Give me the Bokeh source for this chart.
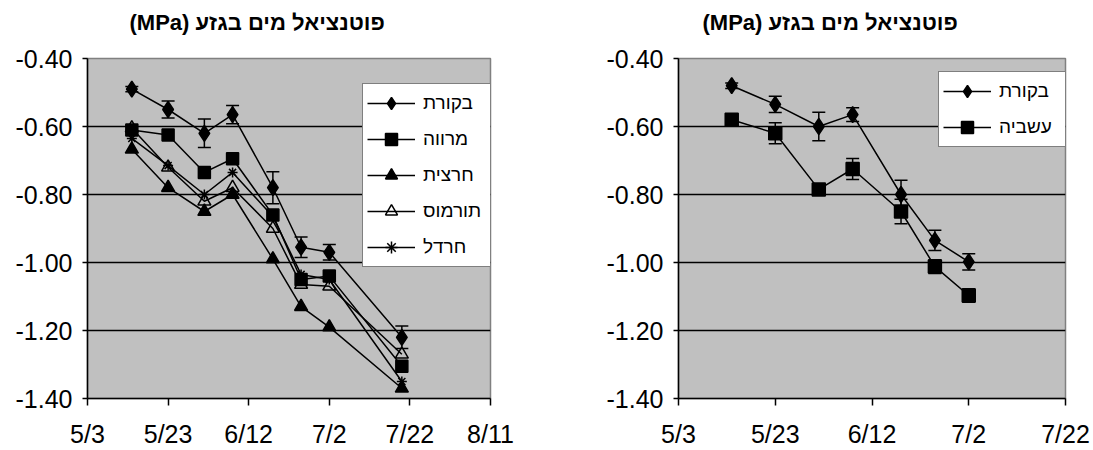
import pandas as pd
from bokeh.plotting import figure
from bokeh.layouts import row
from bokeh.models import (ColumnDataSource, Range1d, FixedTicker, NumeralTickFormatter,
                          Whisker, TeeHead, Legend, LegendItem, Title)
from bokeh.embed import file_html
from bokeh.resources import INLINE

# ---------------- data ----------------
origin = "2006-05-03"
dates = ["2006-05-14", "2006-05-23", "2006-06-01", "2006-06-08",
         "2006-06-18", "2006-06-25", "2006-07-02", "2006-07-20"]

left_names = ["בקורת", "מרווה", "חרצית", "תורמוס", "חרדל"]
left_control = [-0.49, -0.55, -0.62, -0.565, -0.78, -0.955, -0.97, -1.22]
left_control_err = [0.008, 0.025, 0.042, 0.027, 0.047, 0.03, 0.023, 0.033]
left_sage = [-0.61, -0.625, -0.735, -0.695, -0.86, -1.05, -1.04, -1.305]
left_chrys = [-0.667, -0.78, -0.85, -0.80, -0.99, -1.13, -1.19, -1.37]
left_lupin = [-0.605, -0.72, -0.82, -0.78, -0.90, -1.065, -1.07, -1.27]
left_mustard = [-0.635, -0.715, -0.80, -0.735, -0.865, -1.035, -1.05, -1.35]

right_names = ["בקורת", "עשביה"]
right_dates = dates[:7]
right_control = [-0.48, -0.535, -0.60, -0.565, -0.80, -0.935, -0.998]
right_control_err = [0.008, 0.024, 0.042, 0.02, 0.042, 0.03, 0.024]
right_weeds = [-0.58, -0.62, -0.785, -0.725, -0.85, -1.012, -1.097]
right_weeds_err = [0.01, 0.031, 0.016, 0.031, 0.036, 0.02, 0.02]

left_tick_dates = ["2006-05-03", "2006-05-23", "2006-06-12", "2006-07-02", "2006-07-22", "2006-08-11"]
left_tick_labels = ["5/3", "5/23", "6/12", "7/2", "7/22", "8/11"]
right_tick_dates = left_tick_dates[:5]
right_tick_labels = left_tick_labels[:5]
y_ticks = [-1.4, -1.2, -1.0, -0.8, -0.6, -0.4]
grid_values = [-1.2, -1.0, -0.8, -0.6]
title_text = "\u202bפוטנציאל מים בגזע (MPa)\u202c"

# ---------------- helpers ----------------
t0 = pd.Timestamp(origin)


def days(ds):
    return [(pd.Timestamp(d) - t0).days for d in ds]


FONT = "Liberation Sans"


def make_fig(width, height, border_left, border_right, border_top, border_bottom,
             x_end, tick_dates, tick_labels, title_offset):
    p = figure(width=width, height=height, output_backend="svg", toolbar_location=None,
               x_range=Range1d(0, x_end), y_range=Range1d(-1.40, -0.40),
               min_border_left=border_left, min_border_right=border_right,
               min_border_top=border_top, min_border_bottom=border_bottom, title=None)
    t = Title(text=title_text + "\n\u00a0", align="left", offset=title_offset,
              text_font=FONT, text_font_size="22px", text_font_style="bold",
              text_color="black", standoff=0, text_line_height=0.95)
    p.add_layout(t, "above")
    p.border_fill_color = "white"
    p.background_fill_color = "#C0C0C0"
    p.outline_line_color = "#808080"
    p.outline_line_width = 1.5
    p.xgrid.visible = False
    p.ygrid.ticker = FixedTicker(ticks=grid_values)
    p.ygrid.grid_line_color = "black"
    p.ygrid.grid_line_width = 1.5
    tv = days(tick_dates)
    p.xaxis.ticker = FixedTicker(ticks=tv)
    p.xaxis.major_label_overrides = {t: lab for t, lab in zip(tv, tick_labels)}
    p.yaxis.ticker = FixedTicker(ticks=y_ticks)
    p.yaxis.formatter = NumeralTickFormatter(format="0.00")
    for ax in (p.xaxis, p.yaxis):
        ax.axis_line_color = "black"
        ax.axis_line_width = 1.5
        ax.major_tick_line_color = "black"
        ax.major_tick_line_width = 1.5
        ax.major_tick_in = 0
        ax.minor_tick_line_color = None
        ax.major_label_text_font = FONT
        ax.major_label_text_font_size = "25px"
        ax.major_label_text_color = "black"
    p.xaxis.major_tick_out = 7
    p.yaxis.major_tick_out = 5
    p.xaxis.major_label_standoff = 14
    p.yaxis.major_label_standoff = 10
    return p


def add_series(p, x, y, marker, size, fill="black", err=None):
    src = ColumnDataSource(dict(x=x, y=y))
    ln = p.line("x", "y", source=src, line_color="black", line_width=1.5)
    if err is not None:
        esrc = ColumnDataSource(dict(x=x, lo=[a - e for a, e in zip(y, err)],
                                     hi=[a + e for a, e in zip(y, err)]))
        w = Whisker(base="x", lower="lo", upper="hi", source=esrc, dimension="height",
                    line_color="black", line_width=1.5,
                    upper_head=TeeHead(size=13, line_color="black", line_width=1.5),
                    lower_head=TeeHead(size=13, line_color="black", line_width=1.5))
        p.add_layout(w)
    sc = p.scatter("x", "y", source=src, marker=marker, size=size, line_color="black",
                   line_width=1.5, fill_color=fill if fill else "white",
                   fill_alpha=1.0 if fill else 0.0)
    return [ln, sc]


def style_legend(p, items, loc, label_width):
    leg = Legend(items=items, location=loc)
    leg.label_text_font = FONT
    leg.label_text_font_size = "19px"
    leg.label_text_color = "black"
    leg.glyph_width = 48
    leg.glyph_height = 30
    leg.label_height = 20
    leg.label_width = label_width
    leg.label_standoff = 8
    leg.spacing = 6
    leg.padding = 4
    leg.margin = 0
    leg.border_line_color = "black"
    leg.border_line_width = 1.5
    leg.background_fill_color = "white"
    leg.background_fill_alpha = 1.0
    p.add_layout(leg)


# ---------------- left chart ----------------
pL = make_fig(540, 450, 87, 50, 58, 50, 100, left_tick_dates, left_tick_labels, 42)
xl = days(dates)
rL = [
    add_series(pL, xl, left_sage, "square", 12),
    add_series(pL, xl, left_chrys, "triangle", 13),
    add_series(pL, xl, left_lupin, "triangle", 13, fill=None),
    add_series(pL, xl, left_mustard, "asterisk", 10),
]
r_ctrl = add_series(pL, xl, left_control, "diamond", 16, err=left_control_err)
order = [r_ctrl] + rL
style_legend(pL, [LegendItem(label=n, renderers=r) for n, r in zip(left_names, order)],
             (275, 131), 65)

# ---------------- right chart ----------------
pR = make_fig(553, 450, 138, 28, 57, 44, 80, right_tick_dates, right_tick_labels, 24)
xr = days(right_dates)
rr1 = add_series(pR, xr, right_control, "diamond", 16, err=right_control_err)
rr2 = add_series(pR, xr, right_weeds, "square", 13, err=right_weeds_err)
style_legend(pR, [LegendItem(label=n, renderers=r) for n, r in zip(right_names, [rr1, rr2])],
             (260, 251), 65)

layout = row(pL, pR)
open("out.html", "w").write(file_html(layout, INLINE))
